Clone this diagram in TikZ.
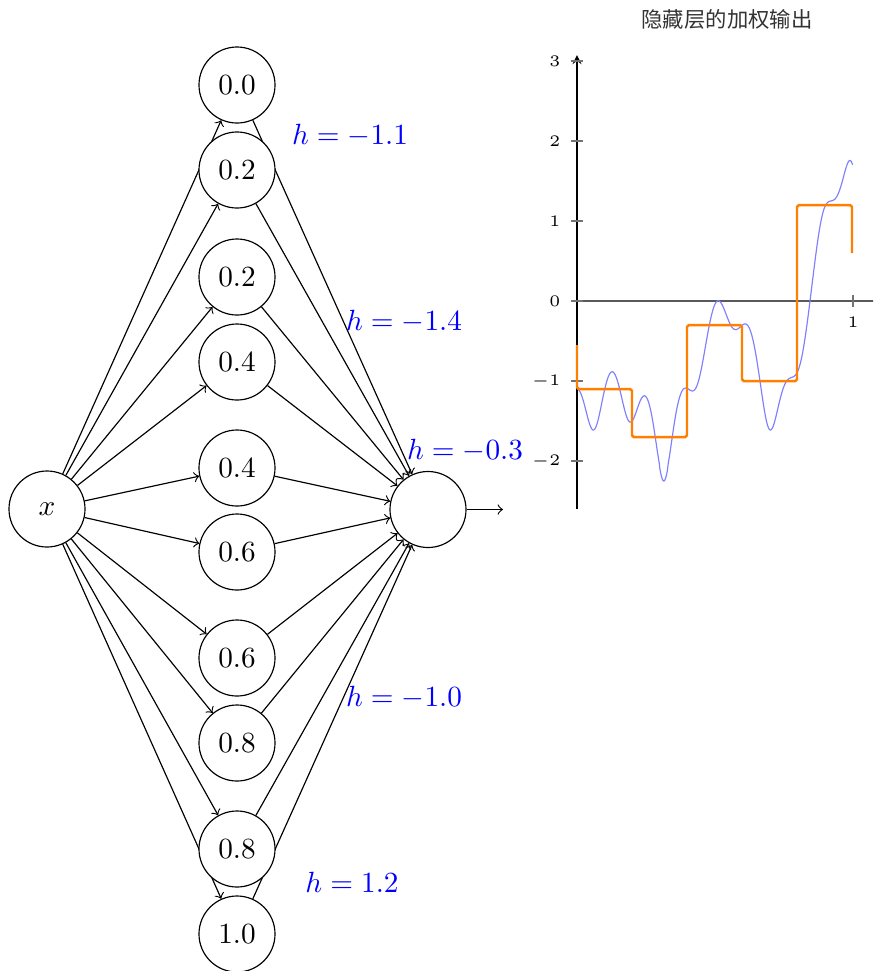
\documentclass[tikz,border=0pt]{standalone}
\usepackage{fontspec}
\newfontfamily\cjk{Noto Sans CJK SC}
\usetikzlibrary{backgrounds}
\begin{document}
\begin{tikzpicture}[x=0.342pt,y=-0.342pt,
  neuron/.style={circle,draw,fill=white,minimum size=26pt,inner sep=0pt},
  conn/.style={->},
  hlab/.style={text=blue},
  ticklab/.style={font=\tiny,scale=1.1,inner sep=0pt},
  tickmark/.style={black!55,line width=0.4pt},
  declare function={ff(\t)=0.2+0.4*\t*\t+0.3*\t*sin(deg(15*\t))+0.05*cos(deg(50*\t));}
]
\useasboundingbox (0,0) rectangle (873,971);
% network
\node[neuron] (x) at (47,509) {$x$};
\node[neuron] (h1) at (237,85) {0.0};
\node[neuron] (h2) at (237,170) {0.2};
\node[neuron] (h3) at (237,277) {0.2};
\node[neuron] (h4) at (237,362) {0.4};
\node[neuron] (h5) at (237,468) {0.4};
\node[neuron] (h6) at (237,552) {0.6};
\node[neuron] (h7) at (237,658) {0.6};
\node[neuron] (h8) at (237,743) {0.8};
\node[neuron] (h9) at (237,849) {0.8};
\node[neuron] (h10) at (237,934) {1.0};
\node[neuron] (out) at (428,509.5) {};
\coordinate (end) at (503,509.5);
\begin{scope}[on background layer]
\foreach \i in {1,...,10}{
  \draw[conn] (x) -- (h\i);
  \draw[conn] (h\i) -- (out);
}
\end{scope}
\draw[conn] (out) -- (end);
\node[hlab] (l1) at (350,136) {$h = -1.1$};
\node[hlab] (l2) at (404,322) {$h = -1.4$};
\node[hlab] (l3) at (465,451) {$h = -0.3$};
\node[hlab] (l4) at (404,698) {$h = -1.0$};
\node[hlab] (l5) at (352,882) {$h = 1.2$};
% plot
\node[font=\cjk\fontsize{7.3}{8}\selectfont,text=black!80] (title) at (727,19) {隐藏层的加权输出};
\begin{scope}
\clip (0,0) rectangle (873,971);
\draw[black!65,line width=0.7pt,-stealth] (571,301) -- (885,301);
\end{scope}
\draw[-stealth] (577,509) -- (577,55);
\foreach \v/\t in {3/3,2/2,1/1,0/0,-1/{-1},-2/{-2}}{
  \draw[tickmark] (571,{301-80*\v}) -- (583,{301-80*\v});
  \node[ticklab,anchor=east] at (561,{301-80*\v}) {$\t$};
}
\draw[tickmark] (853,295) -- (853,307);
\node[ticklab] at (853,322) {$1$};
\draw[blue!50,line width=0.4pt] plot[domain=0:1,samples=400] ({577+276*\x},{301-80*ln(ff(\x)/(1-ff(\x)))});
\draw[orange,line width=0.85pt,rounded corners=0.6pt] (577,345) -- (577,389) -- (632,389) -- (632,437) -- (687,437) -- (687,325) -- (742,325) -- (742,381) -- (797,381) -- (797,205) -- (852,205) -- (852,253);
\end{tikzpicture}
\end{document}
